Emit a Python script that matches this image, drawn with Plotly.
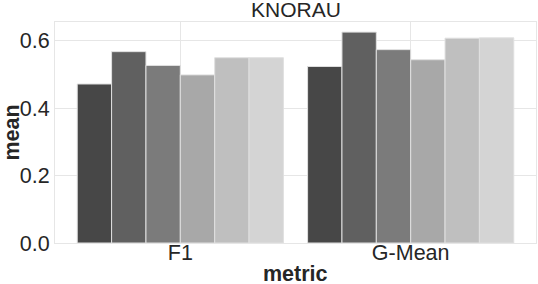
import plotly.graph_objects as go

categories = ["F1", "G-Mean"]
series_names = ["m1", "m2", "m3", "m4", "m5", "m6"]
series_values = [
    [0.472, 0.524],
    [0.568, 0.626],
    [0.527, 0.574],
    [0.499, 0.544],
    [0.550, 0.608],
    [0.550, 0.609],
]
colors = ["#474747", "#606060", "#7b7b7b", "#a8a8a8", "#bfbfbf", "#d4d4d4"]

fig = go.Figure()
for name, vals, c in zip(series_names, series_values, colors):
    fig.add_trace(go.Bar(
        x=categories, y=vals, name=name,
        marker=dict(color=c, line=dict(color="#e0e0e0", width=1)),
        showlegend=False,
    ))

font = "Liberation Sans, Arial, sans-serif"
txt = "#262626"
fig.update_layout(
    width=538, height=284,
    margin=dict(l=55, r=2, t=22, b=41),
    paper_bgcolor="white", plot_bgcolor="white",
    barmode="group", bargap=0.105, bargroupgap=0,
    font=dict(family=font, color=txt),
    annotations=[
        dict(text="KNORAU", x=0.5, xref="paper", y=1, yref="paper",
             xanchor="center", yanchor="middle", showarrow=False, yshift=12.5,
             font=dict(size=21, family=font, color=txt)),
        dict(text="<b>metric</b>", x=0.5, xref="paper", y=0, yref="paper",
             yanchor="middle", xanchor="center", showarrow=False, yshift=-31,
             font=dict(size=21.5, family=font, color=txt)),
        dict(text="<b>mean</b>", x=0, xref="paper", y=0.5, yref="paper",
             xanchor="center", yanchor="middle", showarrow=False, textangle=-90,
             xshift=-44, font=dict(size=21.5, family=font, color=txt)),
    ],
)
fig.update_xaxes(
    range=[-0.544, 1.544], automargin=False,
    showgrid=True, gridcolor="#e6e6e6", gridwidth=1,
    showline=True, linecolor="#e6e6e6", linewidth=1, mirror=True,
    ticks="", ticklen=0, ticklabelstandoff=-10,
    tickfont=dict(size=21.5, family=font, color=txt),
)
fig.update_yaxes(
    range=[0, 0.656], automargin=False,
    tickvals=[0, 0.2, 0.4, 0.6], ticktext=["0.0", "0.2", "0.4", "0.6"],
    showgrid=True, gridcolor="#e6e6e6", gridwidth=1,
    showline=True, linecolor="#e6e6e6", linewidth=1, mirror=True,
    zeroline=False,
    ticks="", tickfont=dict(size=21.5, family=font, color=txt),
)

fig.write_html("out.html", config={"displayModeBar": False},
               post_script="document.body.style.margin='0';")
